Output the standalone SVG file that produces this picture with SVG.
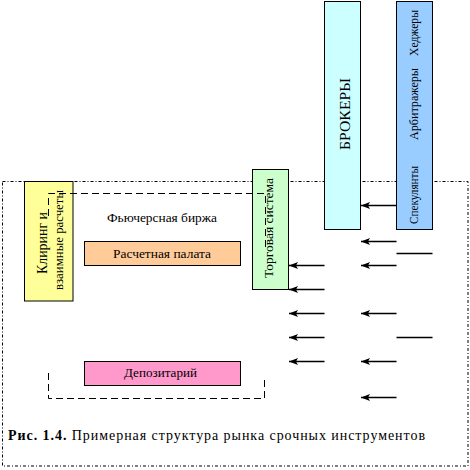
<svg xmlns="http://www.w3.org/2000/svg" width="470" height="470" viewBox="0 0 470 470">
<style>
text{font-family:"Liberation Serif","DejaVu Serif",serif;fill:#000;}
.box{stroke:#000;stroke-width:1;}
.border{fill:none;stroke:#000;stroke-width:1;stroke-dasharray:3,2,1,2;}
.dash{fill:none;stroke:#000;stroke-width:1;stroke-dasharray:7,4;}
.arr{stroke:#000;stroke-width:1.3;fill:none;marker-end:url(#ah);}
.ln{stroke:#000;stroke-width:1.3;fill:none;}
</style>
<defs>
<marker id="ah" markerUnits="userSpaceOnUse" markerWidth="12" markerHeight="10" viewBox="-1 -5 12 10" refX="9" refY="0" orient="auto">
<path d="M0,-3.5 L9,0 L0,3.5 L2,0 Z" fill="#000"/>
</marker>
</defs>
<rect width="470" height="470" fill="#fff"/>
<rect class="border" x="2.5" y="181.5" width="465.5" height="284.5"/>

<g id="clearing">
<rect class="box" x="24.5" y="181.5" width="48.5" height="119.5" fill="#FFFF99"/>
<text font-size="14" text-anchor="middle" transform="translate(47,243) rotate(-90)" textLength="62" lengthAdjust="spacingAndGlyphs">Клиринг и</text>
<text font-size="12" text-anchor="middle" transform="translate(63,240) rotate(-90)" textLength="100" lengthAdjust="spacingAndGlyphs">взаимные расчеты</text>
</g>

<g id="exchange-label">
<text x="162" y="222" font-size="13" text-anchor="middle" textLength="110" lengthAdjust="spacingAndGlyphs">Фьючерсная биржа</text>
</g>

<g id="settlement">
<rect class="box" x="84.5" y="241.5" width="156" height="24" fill="#FFCC99"/>
<text x="162" y="258" font-size="13" text-anchor="middle" textLength="98" lengthAdjust="spacingAndGlyphs">Расчетная палата</text>
</g>

<g id="depository">
<rect class="box" x="84.5" y="361.5" width="156" height="24" fill="#FF99CC"/>
<text x="160.5" y="377" font-size="13" text-anchor="middle" textLength="73" lengthAdjust="spacingAndGlyphs">Депозитарий</text>
</g>

<g id="trading">
<rect class="box" x="252.5" y="169.5" width="36" height="120" fill="#CCFFCC"/>
<text font-size="12.5" text-anchor="middle" transform="translate(273,228) rotate(-90)" textLength="100" lengthAdjust="spacingAndGlyphs">Торговая система</text>
</g>

<g id="brokers">
<rect class="box" x="324.5" y="1.5" width="36" height="228" fill="#CCFFFF"/>
<text font-size="15" text-anchor="middle" transform="translate(349.5,114) rotate(-90)" textLength="72" lengthAdjust="spacingAndGlyphs">БРОКЕРЫ</text>
</g>

<g id="participants">
<rect class="box" x="396.5" y="1.5" width="36" height="228" fill="#99CCFF"/>
<text font-size="13" text-anchor="middle" transform="translate(418,195) rotate(-90)" textLength="58" lengthAdjust="spacingAndGlyphs">Спекулянты</text>
<text font-size="13" text-anchor="middle" transform="translate(418,104) rotate(-90)" textLength="72" lengthAdjust="spacingAndGlyphs">Арбитражеры</text>
<text font-size="13" text-anchor="middle" transform="translate(418,33) rotate(-90)" textLength="46" lengthAdjust="spacingAndGlyphs">Хеджеры</text>
</g>

<g id="exchange-boundary">
<path class="dash" d="M48.5,216 V193.5 H265.5 V250"/>
<path class="dash" d="M48.5,373 V398.5 H264.5 V377"/>
</g>

<g id="connectors">
<line class="arr" x1="396.5" y1="205.5" x2="361" y2="205.5"/>
<line class="arr" x1="396.5" y1="241.5" x2="361" y2="241.5"/>
<line class="arr" x1="396.5" y1="265.5" x2="361" y2="265.5"/>
<line class="arr" x1="396.5" y1="313.5" x2="361" y2="313.5"/>
<line class="arr" x1="396.5" y1="361.5" x2="361" y2="361.5"/>
<line class="arr" x1="396.5" y1="397.5" x2="361" y2="397.5"/>
<line class="arr" x1="324.5" y1="265.5" x2="289" y2="265.5"/>
<line class="arr" x1="324.5" y1="289.5" x2="289" y2="289.5"/>
<line class="arr" x1="324.5" y1="313.5" x2="289" y2="313.5"/>
<line class="arr" x1="324.5" y1="337.5" x2="289" y2="337.5"/>
<line class="arr" x1="324.5" y1="361.5" x2="289" y2="361.5"/>
<line class="ln" x1="396.5" y1="253.5" x2="432.5" y2="253.5"/>
<line class="ln" x1="396.5" y1="337.5" x2="432.5" y2="337.5"/>
</g>

<g id="caption">
<text x="8" y="440" font-size="14" textLength="417" lengthAdjust="spacing"><tspan font-weight="bold">Рис. 1.4.</tspan> Примерная структура рынка срочных инструментов</text>
</g>
</svg>
